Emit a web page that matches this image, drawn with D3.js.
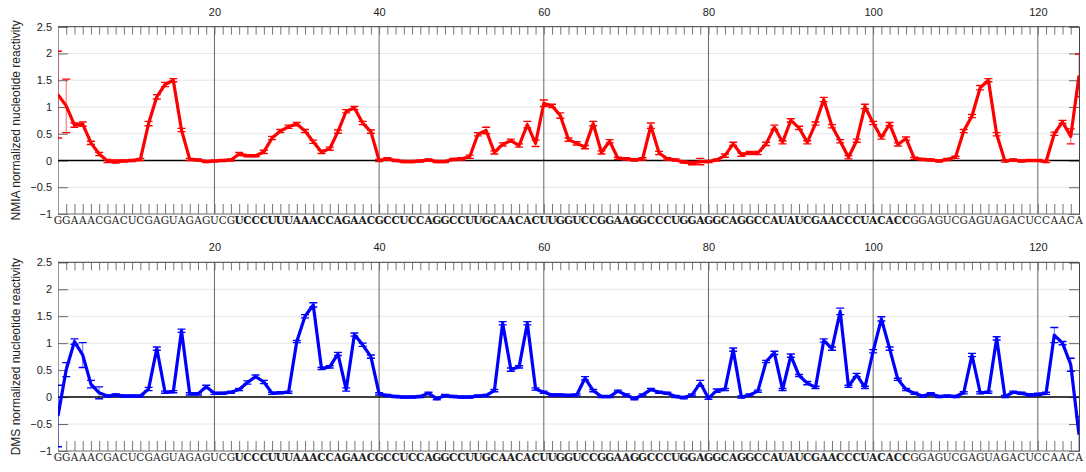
<!DOCTYPE html>
<html>
<head>
<meta charset="utf-8">
<script src="https://cdn.jsdelivr.net/npm/d3@7"></script>
<style>
  body { margin: 0; background: #fff; }
  svg { display: block; }
  .tick text { font-family: "Liberation Sans", Arial, sans-serif; font-size: 11px; fill: #222; }
</style>
</head>
<body>
<div id="chart"></div>
<script>
// sequence, 125 nt; positions 23..104 are drawn in bold
const sequence = "GGAAACGACUCGAGUAGAGUCGUCCCUUUAAACCAGAACGCCUCCAGGCCUUGCAACACUUGGUCCGGAAGGCCCUGGAGGCAGGCCAUAUCGAACCCUACACCGGAGUCGAGUAGACUCCAACA";
const boldStart = 23;
const boldEnd = 104;

const xTickLabels = [20, 40, 60, 80, 100, 120];
const yTickValues = [-1, -0.5, 0, 0.5, 1, 1.5, 2, 2.5];

const nmiaValues = [
  1.23, 1.02, 0.66, 0.68, 0.33, 0.12, -0.01, -0.02, -0.01, 0.00,
  0.02, 0.69, 1.19, 1.42, 1.50, 0.57, 0.02, 0.01, -0.02, -0.01,
  0.00, 0.01, 0.12, 0.09, 0.09, 0.16, 0.42, 0.55, 0.63, 0.68,
  0.55, 0.35, 0.16, 0.22, 0.54, 0.92, 0.98, 0.70, 0.54, 0.00,
  0.03, 0.00, -0.02, -0.02, -0.01, 0.01, -0.02, -0.02, 0.02, 0.03,
  0.07, 0.49, 0.56, 0.15, 0.30, 0.37, 0.28, 0.67, 0.32, 1.07,
  1.02, 0.84, 0.39, 0.32, 0.25, 0.69, 0.15, 0.36, 0.04, 0.03,
  0.01, 0.03, 0.65, 0.14, 0.03, 0.01, -0.03, -0.05, -0.02, -0.02,
  0.01, 0.09, 0.31, 0.11, 0.14, 0.14, 0.31, 0.62, 0.34, 0.75,
  0.61, 0.34, 0.69, 1.14, 0.64, 0.36, 0.06, 0.37, 1.01, 0.70,
  0.43, 0.68, 0.30, 0.41, 0.04, 0.02, 0.01, -0.01, 0.02, 0.06,
  0.55, 0.83, 1.36, 1.50, 0.49, -0.01, 0.01, -0.01, 0.00, 0.00,
  -0.02, 0.50, 0.72, 0.45, 1.59
];
const nmiaErrors = [
  0.81, 0.50, 0.04, 0.04, 0.03, 0.03, 0.03, 0.03, 0.02, 0.02,
  0.02, 0.04, 0.04, 0.04, 0.03, 0.03, 0.02, 0.02, 0.02, 0.02,
  0.02, 0.02, 0.03, 0.02, 0.02, 0.03, 0.03, 0.03, 0.03, 0.03,
  0.03, 0.03, 0.03, 0.03, 0.03, 0.03, 0.03, 0.03, 0.03, 0.02,
  0.02, 0.02, 0.02, 0.02, 0.02, 0.02, 0.02, 0.02, 0.02, 0.02,
  0.03, 0.03, 0.06, 0.03, 0.03, 0.03, 0.03, 0.06, 0.06, 0.06,
  0.03, 0.05, 0.03, 0.03, 0.03, 0.04, 0.03, 0.03, 0.02, 0.02,
  0.02, 0.02, 0.05, 0.03, 0.02, 0.02, 0.02, 0.03, 0.06, 0.02,
  0.02, 0.03, 0.03, 0.03, 0.03, 0.03, 0.03, 0.04, 0.03, 0.03,
  0.03, 0.03, 0.03, 0.04, 0.03, 0.03, 0.03, 0.03, 0.04, 0.03,
  0.03, 0.03, 0.03, 0.03, 0.02, 0.02, 0.02, 0.02, 0.02, 0.02,
  0.03, 0.03, 0.04, 0.03, 0.03, 0.02, 0.02, 0.02, 0.02, 0.02,
  0.02, 0.03, 0.03, 0.14, 0.40
];

const dmsValues = [
  -0.35, 0.51, 1.03, 0.78, 0.24, 0.08, 0.02, 0.04, 0.02, 0.02,
  0.02, 0.15, 0.90, 0.09, 0.10, 1.23, 0.06, 0.06, 0.19, 0.07,
  0.07, 0.09, 0.14, 0.27, 0.38, 0.28, 0.07, 0.08, 0.09, 1.03,
  1.50, 1.71, 0.53, 0.56, 0.80, 0.14, 1.16, 0.97, 0.75, 0.06,
  0.03, 0.01, 0.00, 0.00, 0.01, 0.07, -0.03, 0.03, 0.01, 0.00,
  0.00, 0.02, 0.03, 0.12, 1.37, 0.51, 0.56, 1.37, 0.15, 0.09,
  0.04, 0.04, 0.03, 0.04, 0.35, 0.12, 0.01, 0.01, 0.11, 0.04,
  -0.03, 0.04, 0.14, 0.09, 0.07, 0.01, -0.01, 0.04, 0.26, -0.02,
  0.12, 0.14, 0.88, 0.00, 0.04, 0.11, 0.66, 0.82, 0.14, 0.77,
  0.40, 0.26, 0.18, 1.05, 0.90, 1.59, 0.20, 0.41, 0.18, 0.85,
  1.45, 0.90, 0.33, 0.14, 0.07, 0.02, 0.06, 0.01, 0.02, 0.01,
  0.08, 0.78, 0.08, 0.09, 1.09, 0.01, 0.09, 0.07, 0.04, 0.05,
  0.07, 1.15, 1.00, 0.60, -0.70
];
const dmsErrors = [
  0.57, 0.13, 0.05, 0.23, 0.07, 0.11, 0.02, 0.02, 0.02, 0.02,
  0.02, 0.03, 0.03, 0.02, 0.02, 0.03, 0.02, 0.02, 0.03, 0.02,
  0.02, 0.02, 0.02, 0.03, 0.03, 0.03, 0.02, 0.02, 0.02, 0.02,
  0.03, 0.04, 0.02, 0.02, 0.03, 0.03, 0.03, 0.03, 0.03, 0.02,
  0.02, 0.02, 0.02, 0.02, 0.02, 0.02, 0.02, 0.02, 0.02, 0.02,
  0.02, 0.02, 0.02, 0.02, 0.03, 0.03, 0.02, 0.03, 0.02, 0.02,
  0.02, 0.02, 0.02, 0.02, 0.03, 0.02, 0.02, 0.02, 0.02, 0.02,
  0.02, 0.02, 0.02, 0.02, 0.02, 0.02, 0.02, 0.02, 0.05, 0.02,
  0.03, 0.02, 0.03, 0.02, 0.02, 0.02, 0.02, 0.03, 0.02, 0.03,
  0.02, 0.03, 0.02, 0.03, 0.03, 0.06, 0.02, 0.03, 0.02, 0.03,
  0.04, 0.03, 0.02, 0.02, 0.02, 0.02, 0.02, 0.02, 0.02, 0.02,
  0.02, 0.03, 0.02, 0.02, 0.03, 0.02, 0.02, 0.02, 0.02, 0.02,
  0.02, 0.14, 0.03, 0.12, 0.34
];

const width = 1086;
const height = 472;
const margin = {left: 58, right: 7};

const svg = d3.select("#chart")
    .append("svg")
    .attr("width", width)
    .attr("height", height);

const x = d3.scaleLinear()
    .domain([1, sequence.length])
    .range([margin.left, width - margin.right]);

function drawPanel(id, top, bottom, values, errors, color, label) {
    const y = d3.scaleLinear()
        .domain([-1, 2.5])
        .range([bottom, top]);

    const g = svg.append("g").attr("class", id);

    g.append("clipPath")
        .attr("id", "clip-" + id)
        .append("rect")
        .attr("x", x.range()[0])
        .attr("y", top)
        .attr("width", x.range()[1] - x.range()[0])
        .attr("height", bottom - top);

    // horizontal grid
    g.append("g")
        .selectAll("line")
        .data(yTickValues.filter(v => v !== 0))
        .enter()
        .append("line")
        .attr("x1", x.range()[0])
        .attr("x2", x.range()[1])
        .attr("y1", d => y(d))
        .attr("y2", d => y(d))
        .attr("stroke", "#e6e6e6")
        .attr("stroke-width", 1);

    // vertical grid at labelled positions
    g.append("g")
        .selectAll("line")
        .data(xTickLabels)
        .enter()
        .append("line")
        .attr("x1", d => x(d))
        .attr("x2", d => x(d))
        .attr("y1", top)
        .attr("y2", bottom)
        .attr("stroke", "#555")
        .attr("stroke-width", 0.9);

    // minor ticks, top and bottom, pointing inwards
    const allPos = d3.range(1, sequence.length + 1);
    g.append("g")
        .attr("transform", `translate(0,${top})`)
        .call(d3.axisTop(x).tickValues(allPos).tickSize(-8).tickFormat(""))
        .call(a => a.select(".domain").remove())
        .call(a => a.selectAll(".tick line").attr("stroke", "#666").attr("stroke-width", 0.9));

    g.append("g")
        .attr("transform", `translate(0,${bottom})`)
        .call(d3.axisBottom(x).tickValues(allPos).tickSize(-10).tickFormat(""))
        .call(a => a.select(".domain").remove())
        .call(a => a.selectAll(".tick line").attr("stroke", "#666").attr("stroke-width", 0.9));

    // labels above the panel
    g.append("g")
        .attr("transform", `translate(0,${top})`)
        .call(d3.axisTop(x).tickValues(xTickLabels).tickSize(0).tickPadding(11))
        .call(a => a.select(".domain").remove());

    // y axes
    g.append("g")
        .attr("transform", `translate(${x.range()[0]},0)`)
        .call(d3.axisLeft(y).tickValues(yTickValues).tickSize(-10).tickPadding(6).tickFormat(d3.format("")))
        .call(a => a.select(".domain").attr("stroke", "#999"))
        .call(a => a.selectAll(".tick line").attr("stroke", "#666"));

    g.append("g")
        .attr("transform", `translate(${x.range()[1]},0)`)
        .call(d3.axisRight(y).tickValues(yTickValues).tickSize(-10).tickFormat(""))
        .call(a => a.select(".domain").attr("stroke", "#444"))
        .call(a => a.selectAll(".tick line").attr("stroke", "#666"));

    g.append("line")
        .attr("x1", x.range()[0])
        .attr("x2", x.range()[1])
        .attr("y1", top)
        .attr("y2", top)
        .attr("stroke", "#444");

    g.append("line")
        .attr("x1", x.range()[0])
        .attr("x2", x.range()[1])
        .attr("y1", bottom)
        .attr("y2", bottom)
        .attr("stroke", "#777");

    // zero line
    g.append("line")
        .attr("x1", x.range()[0])
        .attr("x2", x.range()[1])
        .attr("y1", y(0))
        .attr("y2", y(0))
        .attr("stroke", "#000")
        .attr("stroke-width", 1.5);

    const data = values.map((v, i) => ({pos: i + 1, value: v, err: errors[i]}));

    const plot = g.append("g").attr("clip-path", `url(#clip-${id})`);

    const line = d3.line()
        .x(d => x(d.pos))
        .y(d => y(d.value));

    plot.append("path")
        .datum(data)
        .attr("d", line)
        .attr("fill", "none")
        .attr("stroke", color)
        .attr("stroke-width", 3.2)
        .attr("stroke-linejoin", "round");

    const bars = plot.selectAll(".err")
        .data(data)
        .enter()
        .append("g")
        .attr("class", "err")
        .attr("stroke", color);

    bars.append("line")
        .attr("x1", d => x(d.pos))
        .attr("x2", d => x(d.pos))
        .attr("y1", d => y(d.value - d.err))
        .attr("y2", d => y(d.value + d.err))
        .attr("stroke-width", 1)
        .attr("stroke-opacity", 0.6);

    [-1, 1].forEach(s => {
        bars.append("line")
            .attr("x1", d => x(d.pos) - 4)
            .attr("x2", d => x(d.pos) + 4)
            .attr("y1", d => y(d.value + s * d.err))
            .attr("y2", d => y(d.value + s * d.err))
            .attr("stroke-width", 1.4);
    });

    // y label
    g.append("text")
        .attr("transform", `translate(17,${(top + bottom) / 2}) rotate(-90)`)
        .attr("text-anchor", "middle")
        .attr("dominant-baseline", "middle")
        .style("font-family", "'Liberation Sans', Arial, sans-serif")
        .style("font-size", "12px")
        .style("fill", "#222")
        .text(label);

    // sequence under the panel
    g.append("g")
        .selectAll("text")
        .data(sequence.split(""))
        .enter()
        .append("text")
        .attr("x", (d, i) => x(i + 1))
        .attr("y", bottom + 10)
        .attr("text-anchor", "middle")
        .style("font-family", "'DejaVu Serif', 'Liberation Serif', serif")
        .style("font-size", "10.5px")
        .style("font-weight", (d, i) => (i + 1 >= boldStart && i + 1 <= boldEnd) ? "bold" : "normal")
        .style("fill", "#222")
        .text(d => d);
}

drawPanel("nmia", 26.7, 214, nmiaValues, nmiaErrors, "#ff0000", "NMIA normalized nucleotide reactivity");
drawPanel("dms", 262.3, 451, dmsValues, dmsErrors, "#0000ff", "DMS normalized nucleotide reactivity");
</script>
</body>
</html>
